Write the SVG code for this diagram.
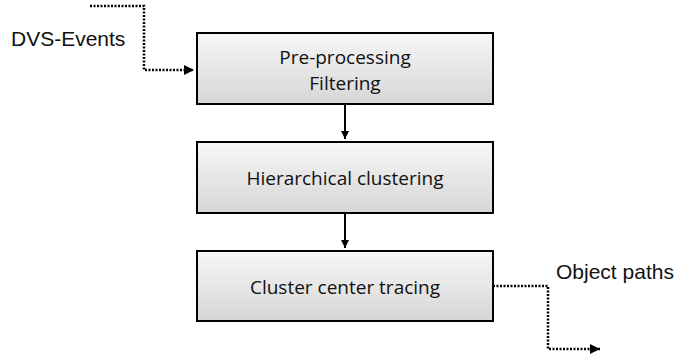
<svg xmlns="http://www.w3.org/2000/svg" width="678" height="358" viewBox="0 0 678 358">
<style>
.box{stroke:#000;stroke-width:2;fill:url(#g)}
.bt{font-family:"Open Sans","Liberation Sans",sans-serif;font-size:19px;fill:#111;text-anchor:middle}
.lt{font-family:"Liberation Sans",Arial,sans-serif;font-size:21px;fill:#111}
.solid{stroke:#000;stroke-width:2;fill:none}
.dot{stroke:#000;stroke-width:2.5;fill:none;stroke-dasharray:2 1.5}
</style>
<defs>
<linearGradient id="g" x1="0" y1="0" x2="0" y2="1">
<stop offset="0" stop-color="#f7f7f7"/>
<stop offset="1" stop-color="#d6d6d6"/>
</linearGradient>
<marker id="ah" viewBox="0 0 10 10" refX="10" refY="5" markerWidth="4" markerHeight="4" orient="auto" markerUnits="strokeWidth">
<path d="M0,0 L10,5 L0,10 z" fill="#000"/>
</marker>
</defs>
<rect width="678" height="358" fill="#fff"/>
<g id="connectors">
<path class="dot" d="M90,6 H144 V70 H194" marker-end="url(#ah)"/>
<path class="solid" d="M345,105 V139" marker-end="url(#ah)"/>
<path class="solid" d="M345,213 V248" marker-end="url(#ah)"/>
<path class="dot" d="M493,286 H548 V349 H600" marker-end="url(#ah)"/>
</g>
<g id="label-in"><text class="lt" x="11" y="46">DVS-Events</text></g>
<g id="node-preprocessing">
<rect class="box" x="197" y="33" width="296" height="71"/>
<text class="bt" x="345" y="64">Pre-processing</text>
<text class="bt" x="345" y="90">Filtering</text>
</g>
<g id="node-hierarchical">
<rect class="box" x="197" y="142" width="296" height="71"/>
<text class="bt" x="345" y="185">Hierarchical clustering</text>
</g>
<g id="node-tracing">
<rect class="box" x="197" y="251" width="296" height="70"/>
<text class="bt" x="345" y="294">Cluster center tracing</text>
</g>
<g id="label-out"><text class="lt" x="556" y="279">Object paths</text></g>
</svg>
